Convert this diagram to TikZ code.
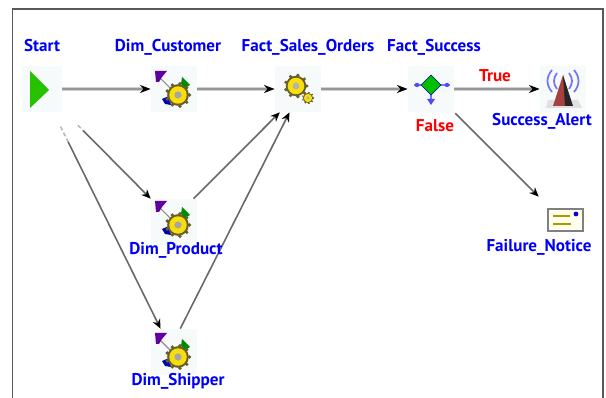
\documentclass[tikz,border=0pt]{standalone}
\usepackage{fontspec}
\setmainfont{PT Sans}
\usetikzlibrary{arrows.meta,calc}
\definecolor{lbl}{RGB}{0,0,250}
\definecolor{tile}{RGB}{247,250,250}
\definecolor{gearrim}{RGB}{105,95,40}
\definecolor{gearfill}{RGB}{248,222,10}
\definecolor{shaftgray}{RGB}{150,150,150}
\definecolor{diaggray}{RGB}{105,105,105}
\tikzset{
  x=0.75pt,y=-0.75pt,
  iconbox/.style={minimum width=35pt,minimum height=35pt,inner sep=0pt,outer sep=0pt,fill=tile},
  name label/.style={text=lbl,font=\bfseries\fontsize{12.8}{13}\selectfont,inner sep=0pt,anchor=base},
  state label/.style={text=red,font=\bfseries\fontsize{12.8}{13}\selectfont,inner sep=0pt,anchor=base},
  hlink/.style={preaction={draw=black!18,line width=3.4pt,arrows=-,shorten >=6pt},draw=shaftgray,line width=1.8pt,-{Stealth[length=8pt,width=6pt,color=black]}},
  dlink/.style={draw=diaggray,line width=1.2pt,-{Stealth[length=7pt,width=6pt,color=black]}},
  faint/.style={color=black!30,line width=1.1pt,dash pattern=on 3pt off 2pt},
}
\newcommand{\gearshape}[4]{% x y radius centre-colour
  \foreach \a in {0,40,...,320}{
    \fill[gearrim] ($(#1,#2)+(\a:#3*1.2*0.75pt)$) circle[radius=#3*0.2*0.75pt];
  }
  \fill[gearrim] (#1,#2) circle[radius=#3*1.14*0.75pt];
  \fill[gearfill] (#1,#2) circle[radius=#3*0.92*0.75pt];
  \fill[#4] (#1,#2) circle[radius=#3*0.38*0.75pt];
}
\newcommand{\dimicon}[2]{%
  \begin{scope}[shift={(#1,#2)}]
    \draw[black!45,line width=0.8pt] (-13,-11) -- (2,4);
    \fill[green!55!black] (8,-13) -- (16,-5) -- (11,-2) -- (7,-6) -- cycle;
    \fill[blue!70!black] (-12,9) -- (-5,6) -- (-3,15) -- (-9,14) -- cycle;
    \gearshape{4}{5}{9.5}{black!35}
    \fill[violet!75!blue] (-19,-19) -- (-7,-19) -- (-12,-13) -- (-15,-8) -- (-18,-8) -- cycle;
  \end{scope}}
\begin{document}
\begin{tikzpicture}
\useasboundingbox (0,0) rectangle (606,398);
\fill[white] (0,0) rectangle (606,398);
\draw[black!65,line width=0.9pt] (12.5,398) -- (12.5,9) -- (603,9) -- (603,398);
% nodes (tiles)
\node[iconbox,minimum width=30pt] (start) at (42,89) {};
\node[iconbox] (cust) at (174,89) {};
\node[iconbox] (fact) at (298,89) {};
\node[iconbox] (succ) at (431,89) {};
\node[iconbox] (alert) at (563,89) {};
\node[iconbox] (prod) at (174,222) {};
\node[iconbox] (ship) at (174,352) {};
\node[iconbox,fill=none] (note) at (562,220) {};
% icons
\fill[green!70!black!80!lime] (30,71) -- (49,90) -- (30,108) -- cycle;
\dimicon{174}{90}
\dimicon{174}{220}
\dimicon{174}{352}
\gearshape{296}{86}{9}{black!30}
\gearshape{308}{98}{4.5}{black!30}
% diamond icon
\draw[blue!55,line width=1pt] (414,85) -- (421,85) (441,85) -- (450,85) (431,95) -- (431,104);
\fill[blue!70] (417,85) circle[radius=2.2];
\fill[blue!70] (447,85) circle[radius=2.2];
\fill[blue!70] (431,105) -- (427,99) -- (435,99) -- cycle;
\fill[green!75!black] (431,75) -- (441,85) -- (431,95) -- (421,85) -- cycle;
\draw[blue!60!black,line width=0.4pt] (431,75) -- (441,85) -- (431,95) -- (421,85) -- cycle;
% alert icon
\fill[black!12] (548,100) -- (578,100) -- (582,108) -- (546,108) -- cycle;
\fill[red!55!black!75] (563,75) -- (572,106) -- (553,106) -- cycle;
\fill[black!85] (563,75) -- (573,106) -- (565,106) -- cycle;
\draw[blue!55,line width=1.3pt]
  (557,73) .. controls (553,78) and (553,84) .. (557,89)
  (552,70) .. controls (546,77) and (546,85) .. (552,92)
  (569,73) .. controls (573,78) and (573,84) .. (569,89)
  (574,70) .. controls (580,77) and (580,85) .. (574,92);
% notice icon
\draw[black!50,line width=1.5pt,fill=yellow!7] (548,209) rectangle (583,231);
\draw[olive!80!yellow,line width=1.6pt] (553,216) -- (570,216) (553,224) -- (571,224);
\fill[blue!85!black] (576,214) circle[radius=2.4];
% connectors
\draw[hlink] (start.east) -- (cust.west);
\draw[hlink] (cust.east) -- (fact.west);
\draw[hlink] (fact.east) -- (succ.west);
\draw[hlink] (succ.east) -- (alert.west);
\draw[dlink,shorten <=1pt] (succ.south east) -- (note.north west);
\coordinate (sp) at ($(start)!0.38!(prod.north west)$);
\coordinate (ss) at ($(start)!0.22!(ship.120)$);
\draw[faint,shorten <=17pt] (start) -- (sp);
\draw[faint,shorten <=12pt] (start) -- (ss);
\draw[dlink] (sp) -- (prod.north west);
\draw[dlink] (ss) -- (ship.120);
\draw[dlink] (prod.50) -- (fact.232);
\draw[dlink] (ship.75) -- (fact.250);
% labels
\node[name label] (l1) at (42,52) {Start};
\node[name label] (l2) at (168,52) {Dim\_Customer};
\node[name label] (l3) at (308,52) {Fact\_Sales\_Orders};
\node[name label] (l4) at (434,52) {Fact\_Success};
\node[name label] (l5) at (542,126) {Success\_Alert};
\node[name label] (l6) at (176,255) {Dim\_Product};
\node[name label] (l7) at (178,385) {Dim\_Shipper};
\node[name label] (l8) at (539,252) {Failure\_Notice};
\node[state label] (l9) at (495,82) {True};
\node[state label] (l10) at (435,132) {False};
\end{tikzpicture}
\end{document}
